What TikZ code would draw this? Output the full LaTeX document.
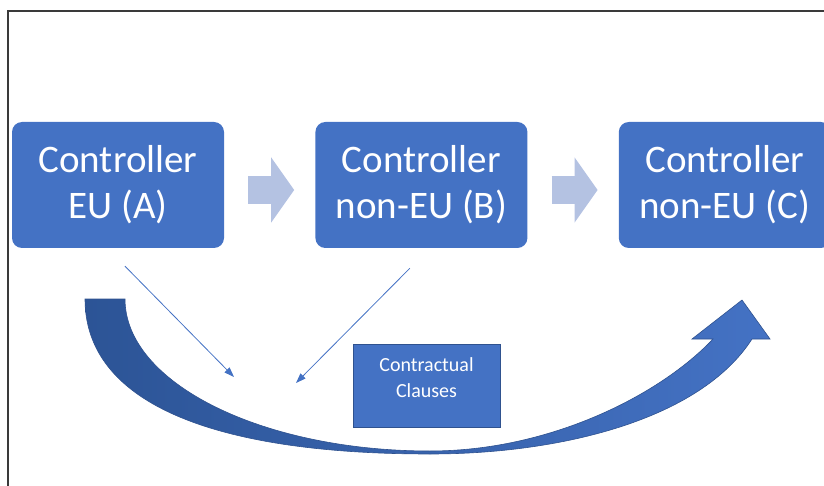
\documentclass[tikz,border=0pt]{standalone}
\usepackage{fontspec}
\setmainfont{Carlito}
\usetikzlibrary{arrows.meta, calc, positioning}

\definecolor{boxblue}{HTML}{4472C4}
\definecolor{edgeblue}{HTML}{2F528F}
\definecolor{darkblue}{HTML}{2C5496}
\definecolor{paleblue}{HTML}{B4C2E2}
\definecolor{framegray}{HTML}{3A3A3A}

\begin{document}
\begin{tikzpicture}[
      x=1pt, y=-1pt,
      node distance=10mm and 91pt,
      box/.style={fill=boxblue, rounded corners=10pt, text=white, align=center,
        minimum width=212pt, minimum height=126pt, inner sep=0pt,
        font=\fontsize{39}{46}\selectfont},
      clause/.style={draw=edgeblue, fill=boxblue, line width=0.9pt, text=white, align=center,
        minimum width=147pt, minimum height=83pt, inner sep=0pt, text depth=16pt,
        font=\fontsize{20}{26}\selectfont},
      blk/.style={paleblue, line width=28pt, -{Triangle[length=23pt,width=64pt]},
        shorten <=24pt, shorten >=21pt},
      arr/.style={boxblue, line width=0.8pt, -{Triangle[length=10pt,width=7pt]}}
    ]
      \useasboundingbox (0,0) rectangle (824,486);
      \clip (0,0) rectangle (824,486);

% Frame
      \draw[framegray, line width=1.5pt] (8,486) -- (8,11) -- (824,11);

% Controllers
      \node[box] (A) at (118,185) {Controller\\EU (A)};
      \node[box, right=of A] (B) {Controller\\non-EU (B)};
      \node[box, right=of B] (C) {Controller\\non-EU (C)};

      \draw[blk] ([yshift=-5pt]A.east) -- ([yshift=-5pt]B.west);
      \draw[blk] ([yshift=-5pt]B.east) -- ([yshift=-5pt]C.west);

% Clauses
      \node[clause] (cc) at (426.5,385.5) {Contractual\\Clauses};

      \coordinate (ma) at (234,377);
      \coordinate (mb) at (296,383);
      \draw[arr] ($(A.south)+(7,18)$) -- (ma);
      \draw[arr] ($(B.south)+(-11.5,20)$) -- (mb);

% Transfer arrow A to C
      \path[draw=edgeblue, line width=0.6pt, left color=darkblue, right color=boxblue]
        (85,299) -- (125,299)
        .. controls (125,383) and (262,451) .. (430,451)
        .. controls (550,451) and (660,395) .. (713,339)
        -- (692,339) -- (742,300) -- (770,339) -- (752,339)
        .. controls (700,420) and (560,454) .. (430,454)
        .. controls (205.75,454) and (85,399.75) .. (85,299) -- cycle;
    \end{tikzpicture}
\end{document}
